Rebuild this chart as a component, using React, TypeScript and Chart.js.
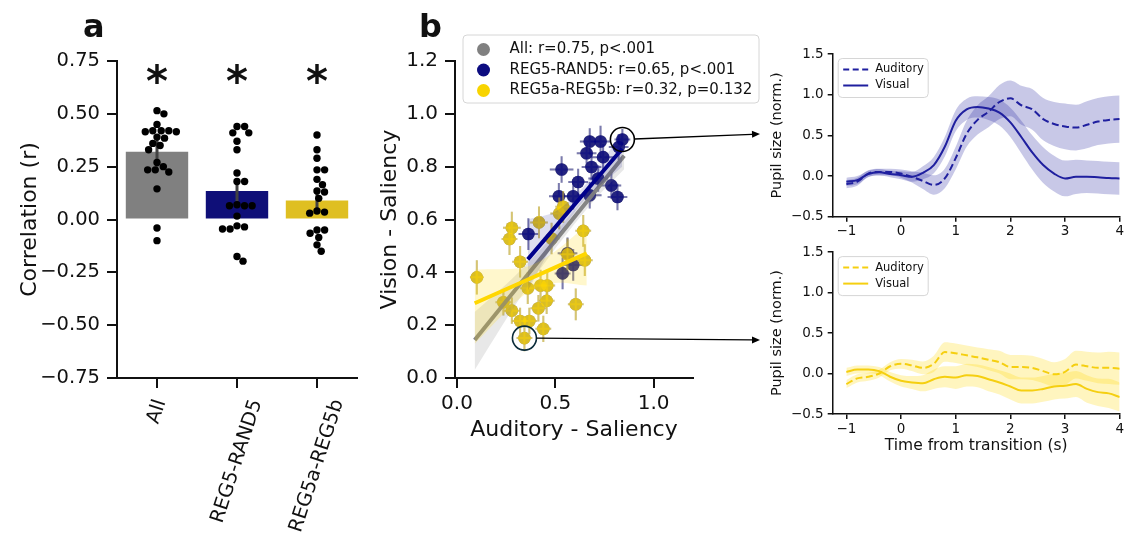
import React, { useEffect, useRef } from 'react';
import { Chart, registerables } from 'chart.js';

Chart.register(...registerables);

const FONT = "'DejaVu Sans', 'Liberation Sans', sans-serif";
const INK = '#111111';
Chart.defaults.font.family = FONT;
Chart.defaults.color = INK;

// ---------- a: per-participant correlation between modalities ----------
const groupLabels = ['All', 'REG5-RAND5', 'REG5a-REG5b'];
const groupMeans = [0.32, 0.135, 0.09];
const groupCiLow = [0.25, 0.085, 0.05];
const groupCiHigh = [0.385, 0.185, 0.14];
const allSubjectR = [0.515, 0.5, 0.45, 0.42, 0.42, 0.415, 0.42, 0.415, 0.39, 0.385, 0.36, 0.35, 0.33, 0.27, 0.25, 0.235, 0.235, 0.225, 0.145, -0.04, -0.1];
const randSubjectR = [0.44, 0.44, 0.41, 0.41, 0.37, 0.33, 0.22, 0.18, 0.18, 0.07, 0.065, 0.065, 0.065, 0.016, -0.03, -0.045, -0.045, -0.035, -0.175, -0.197];
const regSubjectR = [0.4, 0.33, 0.29, 0.235, 0.235, 0.19, 0.165, 0.135, 0.13, 0.1, 0.04, 0.03, 0.035, -0.05, -0.05, -0.065, -0.085, -0.12, -0.15];
const significance = ['*', '*', '*'];
const starLevel = 0.69;
const barColors = ['#808080', '#0f0f78', '#dfbf22'];

// ---------- b: auditory vs visual saliency per condition ----------
const randAudX = [0.675, 0.73, 0.841, 0.822, 0.659, 0.743, 0.684, 0.532, 0.616, 0.718, 0.785, 0.518, 0.591, 0.675, 0.816, 0.363, 0.562, 0.591, 0.537];
const randVisY = [0.895, 0.895, 0.903, 0.874, 0.851, 0.836, 0.799, 0.789, 0.742, 0.755, 0.729, 0.688, 0.688, 0.692, 0.685, 0.545, 0.472, 0.428, 0.396];
const randErrX = [0.05, 0.05, 0.04, 0.05, 0.05, 0.06, 0.05, 0.06, 0.05, 0.05, 0.05, 0.05, 0.05, 0.06, 0.05, 0.05, 0.05, 0.05, 0.04];
const randErrY = [0.05, 0.06, 0.04, 0.05, 0.04, 0.05, 0.05, 0.05, 0.05, 0.05, 0.05, 0.05, 0.05, 0.05, 0.05, 0.06, 0.06, 0.06, 0.06];
const regAudX = [0.101, 0.279, 0.267, 0.417, 0.54, 0.52, 0.481, 0.642, 0.65, 0.562, 0.321, 0.36, 0.425, 0.459, 0.456, 0.414, 0.236, 0.279, 0.321, 0.368, 0.439, 0.343, 0.604];
const regVisY = [0.381, 0.569, 0.526, 0.589, 0.648, 0.623, 0.528, 0.557, 0.446, 0.468, 0.44, 0.34, 0.35, 0.35, 0.292, 0.264, 0.287, 0.255, 0.216, 0.216, 0.186, 0.151, 0.279];
const regErrX = [0.035, 0.045, 0.04, 0.045, 0.04, 0.045, 0.04, 0.04, 0.04, 0.04, 0.04, 0.04, 0.04, 0.04, 0.04, 0.04, 0.04, 0.04, 0.04, 0.04, 0.04, 0.04, 0.04];
const regErrY = [0.065, 0.06, 0.06, 0.06, 0.06, 0.06, 0.06, 0.06, 0.06, 0.06, 0.06, 0.06, 0.06, 0.06, 0.05, 0.05, 0.05, 0.05, 0.05, 0.05, 0.05, 0.05, 0.06];
const highlightedRand = 2;
const highlightedReg = 21;

// regression fits with confidence bands
const allFitX = [0.09, 0.3, 0.5, 0.7, 0.85];
const allFitY = [0.144, 0.337, 0.52, 0.704, 0.841];
const allFitLo = [0.03, 0.28, 0.49, 0.675, 0.79];
const allFitHi = [0.25, 0.39, 0.55, 0.735, 0.89];
const randFitX = [0.36, 0.5, 0.65, 0.84];
const randFitY = [0.449, 0.571, 0.702, 0.868];
const randFitLo = [0.33, 0.52, 0.675, 0.8];
const randFitHi = [0.6, 0.63, 0.73, 0.93];
const regFitX = [0.09, 0.35, 0.5, 0.66];
const regFitY = [0.283, 0.369, 0.419, 0.472];
const regFitLo = [0.13, 0.32, 0.36, 0.35];
const regFitHi = [0.41, 0.42, 0.48, 0.58];

const legendTexts = ['All: r=0.75, p<.001', 'REG5-RAND5: r=0.65, p<.001', 'REG5a-REG5b: r=0.32, p=0.132'];

// ---------- pupil traces around the transition ----------
const timeS = [-1, -0.8, -0.6, -0.4, -0.2, 0, 0.2, 0.4, 0.6, 0.8, 1, 1.2, 1.4, 1.6, 1.8, 2, 2.2, 2.4, 2.6, 2.8, 3, 3.2, 3.4, 3.6, 3.8, 4];
const randAud = [-0.1, -0.07, 0.03, 0.05, 0.05, 0.03, -0.01, -0.06, -0.11, -0.03, 0.22, 0.52, 0.69, 0.79, 0.91, 0.955, 0.87, 0.82, 0.7, 0.64, 0.61, 0.595, 0.63, 0.67, 0.69, 0.7];
const randAudSem = [0.05, 0.05, 0.04, 0.04, 0.04, 0.05, 0.07, 0.1, 0.12, 0.12, 0.14, 0.16, 0.18, 0.19, 0.21, 0.22, 0.24, 0.25, 0.26, 0.27, 0.28, 0.28, 0.29, 0.29, 0.29, 0.29];
const randVis = [-0.07, -0.05, 0.025, 0.045, 0.025, 0.01, -0.01, 0.04, 0.135, 0.36, 0.68, 0.82, 0.85, 0.83, 0.78, 0.66, 0.48, 0.29, 0.135, 0.03, -0.03, -0.01, -0.01, -0.015, -0.025, -0.03];
const randVisSem = [0.05, 0.05, 0.04, 0.04, 0.04, 0.05, 0.06, 0.08, 0.1, 0.12, 0.13, 0.13, 0.13, 0.14, 0.16, 0.18, 0.2, 0.21, 0.22, 0.22, 0.22, 0.21, 0.2, 0.2, 0.2, 0.2];
const regAud = [-0.13, -0.06, -0.04, 0.0, 0.09, 0.12, 0.1, 0.07, 0.12, 0.265, 0.25, 0.225, 0.2, 0.17, 0.14, 0.08, 0.08, 0.07, 0.03, -0.01, 0.02, 0.11, 0.09, 0.07, 0.07, 0.06];
const regAudSem = [0.05, 0.05, 0.05, 0.05, 0.05, 0.06, 0.07, 0.08, 0.1, 0.12, 0.12, 0.12, 0.12, 0.13, 0.14, 0.15, 0.15, 0.15, 0.15, 0.15, 0.16, 0.17, 0.18, 0.19, 0.2, 0.2];
const regVis = [0.02, 0.05, 0.05, 0.03, -0.04, -0.09, -0.11, -0.12, -0.07, -0.04, -0.05, -0.02, -0.03, -0.07, -0.11, -0.16, -0.21, -0.21, -0.19, -0.16, -0.15, -0.13, -0.19, -0.23, -0.245, -0.29];
const regVisSem = [0.05, 0.05, 0.05, 0.05, 0.06, 0.07, 0.08, 0.1, 0.12, 0.13, 0.14, 0.14, 0.14, 0.15, 0.15, 0.16, 0.16, 0.16, 0.16, 0.16, 0.16, 0.16, 0.17, 0.17, 0.18, 0.18];
const traceLabels = ['Auditory', 'Visual'];

// ---------- helpers ----------
const fmtSigned = (digits: number) => (v: number | string) => {
  const n = Number(v);
  const s = Math.abs(n).toFixed(digits);
  return n < -1e-9 ? '\u2212' + s : s;
};

function axis(tickLen: number, width: number, size: number, pad: number) {
  return {
    border: { display: true, color: INK, width },
    grid: {
      display: true, drawOnChartArea: false, drawTicks: true, tickLength: tickLen,
      tickColor: INK, tickWidth: width, color: INK, lineWidth: width, offset: false,
    },
    ticks: { color: INK, font: { family: FONT, size }, padding: pad, maxRotation: 0, minRotation: 0, autoSkip: false },
  };
}

function swarmOffsets(ys: number[], d: number): number[] {
  const order = ys.map((_, i) => i).sort((a, b) => ys[a] - ys[b]);
  const placed: { x: number; y: number }[] = [];
  const out = new Array(ys.length).fill(0);
  for (const i of order) {
    const y = ys[i];
    const cands = [0];
    for (const p of placed) {
      const dy = Math.abs(p.y - y);
      if (dy < d) {
        const dx = Math.sqrt(d * d - dy * dy);
        cands.push(p.x + dx, p.x - dx);
      }
    }
    cands.sort((a, b) => Math.abs(a) - Math.abs(b));
    let best = cands[cands.length - 1];
    for (const c of cands) {
      if (placed.every((p) => (p.x - c) ** 2 + (p.y - y) ** 2 >= d * d - 1e-6)) { best = c; break; }
    }
    placed.push({ x: best, y });
    out[i] = best;
  }
  return out;
}

function pts(xs: number[], ys: number[]) {
  return xs.map((x, i) => ({ x, y: ys[i] }));
}

function drawLegend(ctx: any, box: { x: number; y: number; w: number; h: number }, rows: { label: string; y: number; mark: (cy: number) => void }[], textX: number, size: number) {
  ctx.save();
  ctx.beginPath();
  const r = 4;
  ctx.moveTo(box.x + r, box.y);
  ctx.arcTo(box.x + box.w, box.y, box.x + box.w, box.y + box.h, r);
  ctx.arcTo(box.x + box.w, box.y + box.h, box.x, box.y + box.h, r);
  ctx.arcTo(box.x, box.y + box.h, box.x, box.y, r);
  ctx.arcTo(box.x, box.y, box.x + box.w, box.y, r);
  ctx.closePath();
  ctx.fillStyle = 'rgba(255,255,255,0.85)';
  ctx.fill();
  ctx.strokeStyle = '#d6d6d6';
  ctx.lineWidth = 1;
  ctx.stroke();
  ctx.font = `${size}px ${FONT}`;
  ctx.fillStyle = INK;
  ctx.textAlign = 'left';
  ctx.textBaseline = 'middle';
  rows.forEach((row) => {
    row.mark(row.y);
    ctx.fillStyle = INK;
    ctx.fillText(row.label, textX, row.y);
  });
  ctx.restore();
}

// ---------- panel a ----------
const panelAOverlay = {
  id: 'panelAOverlay',
  afterDatasetsDraw(chart: any) {
    const { ctx, chartArea } = chart;
    const xs = chart.scales.x;
    const ys = chart.scales.y;
    ctx.save();
    ctx.strokeStyle = '#424242';
    ctx.lineWidth = 3;
    groupLabels.forEach((_, i) => {
      const x = xs.getPixelForValue(i);
      ctx.beginPath();
      ctx.moveTo(x, ys.getPixelForValue(groupCiLow[i]));
      ctx.lineTo(x, ys.getPixelForValue(groupCiHigh[i]));
      ctx.stroke();
    });
    const dotR = 3.7;
    [allSubjectR, randSubjectR, regSubjectR].forEach((vals, i) => {
      const cx = xs.getPixelForValue(i);
      const py = vals.map((v) => ys.getPixelForValue(v));
      const off = swarmOffsets(py, dotR * 2 + 0.2);
      ctx.fillStyle = '#000000';
      py.forEach((y, k) => {
        ctx.beginPath();
        ctx.arc(cx + off[k], y, dotR, 0, Math.PI * 2);
        ctx.fill();
      });
    });
    ctx.font = `bold 42px ${FONT}`;
    ctx.textAlign = 'center';
    ctx.textBaseline = 'alphabetic';
    ctx.fillStyle = INK;
    significance.forEach((s, i) => {
      const m = ctx.measureText(s);
      const yc = ys.getPixelForValue(starLevel);
      const base = yc + (m.actualBoundingBoxAscent - m.actualBoundingBoxDescent) / 2;
      ctx.fillText(s, xs.getPixelForValue(i), base);
    });
    const size = 19.5;
    ctx.font = `${size}px ${FONT}`;
    ctx.textBaseline = 'middle';
    const th = (72 * Math.PI) / 180;
    groupLabels.forEach((lab, i) => {
      const L = ctx.measureText(lab).width;
      const h = size * 0.75;
      const H = L * Math.sin(th) + h * Math.cos(th);
      ctx.save();
      ctx.translate(xs.getPixelForValue(i), chartArea.bottom + 20 + H / 2);
      ctx.rotate(-th);
      ctx.fillText(lab, 0, 0);
      ctx.restore();
    });
    ctx.font = `bold 32px ${FONT}`;
    ctx.textAlign = 'left';
    ctx.textBaseline = 'alphabetic';
    ctx.fillText('a', 83, 37);
    ctx.restore();
  },
};

function buildPanelA() {
  const ax = axis(10, 2, 19.5, 7);
  return {
    type: 'bar',
    data: {
      labels: groupLabels,
      datasets: [{ data: groupMeans, backgroundColor: barColors, borderWidth: 0, barPercentage: 0.78, categoryPercentage: 1 }],
    },
    options: {
      responsive: false,
      animation: false,
      layout: { padding: { top: 61, right: 13, left: 0, bottom: 0 } },
      plugins: { legend: { display: false }, tooltip: { enabled: false } },
      scales: {
        x: {
          ...ax,
          offset: true,
          ticks: { ...ax.ticks, display: false },
          afterFit: (s: any) => { s.height = 163; },
        },
        y: {
          ...ax,
          min: -0.75,
          max: 0.75,
          ticks: { ...ax.ticks, stepSize: 0.25, callback: fmtSigned(2) },
          title: { display: true, text: 'Correlation (r)', color: INK, font: { family: FONT, size: 22 }, padding: { top: 17, bottom: 0 } },
          afterFit: (s: any) => { s.width = 117; },
        },
      },
    },
    plugins: [panelAOverlay],
  };
}

// ---------- panel b ----------
const scatterOverlay = {
  id: 'scatterOverlay',
  beforeDatasetDraw(chart: any, args: any) {
    const ds: any = chart.data.datasets[args.index];
    if (!ds.errX) return;
    const { ctx } = chart;
    const xs = chart.scales.x;
    const ys = chart.scales.y;
    ctx.save();
    ctx.strokeStyle = ds.errColor;
    ctx.lineWidth = 2;
    ds.data.forEach((p: any, i: number) => {
      const px = xs.getPixelForValue(p.x);
      const py = ys.getPixelForValue(p.y);
      ctx.beginPath();
      ctx.moveTo(xs.getPixelForValue(p.x - ds.errX[i]), py);
      ctx.lineTo(xs.getPixelForValue(p.x + ds.errX[i]), py);
      ctx.moveTo(px, ys.getPixelForValue(p.y - ds.errY[i]));
      ctx.lineTo(px, ys.getPixelForValue(p.y + ds.errY[i]));
      ctx.stroke();
    });
    ctx.restore();
  },
  afterDatasetsDraw(chart: any) {
    const { ctx, chartArea } = chart;
    const xs = chart.scales.x;
    const ys = chart.scales.y;
    ctx.save();
    // callouts pointing to the pupil traces on the right
    const callouts = [
      { x: randAudX[highlightedRand], y: randVisY[highlightedRand], color: '#000000', tx: 390, ty: 134 },
      { x: regAudX[highlightedReg], y: regVisY[highlightedReg], color: '#0b2c3a', tx: 390, ty: 340 },
    ];
    const rad = 12;
    callouts.forEach((c) => {
      const cx = xs.getPixelForValue(c.x);
      const cy = ys.getPixelForValue(c.y);
      ctx.strokeStyle = c.color;
      ctx.lineWidth = 1.6;
      ctx.beginPath();
      ctx.arc(cx, cy, rad, 0, Math.PI * 2);
      ctx.stroke();
      const a = Math.atan2(c.ty - cy, c.tx - cx);
      const sx = cx + rad * Math.cos(a);
      const sy = cy + rad * Math.sin(a);
      const hl = 8;
      const hw = 3.5;
      const bx = c.tx - hl * Math.cos(a);
      const by = c.ty - hl * Math.sin(a);
      ctx.strokeStyle = '#000000';
      ctx.lineWidth = 1.3;
      ctx.beginPath();
      ctx.moveTo(sx, sy);
      ctx.lineTo(bx, by);
      ctx.stroke();
      ctx.fillStyle = '#000000';
      ctx.beginPath();
      ctx.moveTo(c.tx, c.ty);
      ctx.lineTo(bx - hw * Math.sin(a), by + hw * Math.cos(a));
      ctx.lineTo(bx + hw * Math.sin(a), by - hw * Math.cos(a));
      ctx.closePath();
      ctx.fill();
    });
    const markColors = ['#808080', '#0c0c80', '#f8d400'];
    const left = chartArea.left + 8;
    const top = chartArea.top - 26;
    drawLegend(
      ctx,
      { x: left, y: top, w: 296, h: 68 },
      legendTexts.map((label, i) => ({
        label,
        y: top + 14.5 + i * 20.5,
        mark: (cy: number) => {
          ctx.fillStyle = markColors[i];
          ctx.beginPath();
          ctx.arc(left + 20.5, cy, 6.5, 0, Math.PI * 2);
          ctx.fill();
        },
      })),
      left + 46.5,
      15,
    );
    ctx.font = `bold 32px ${FONT}`;
    ctx.textAlign = 'left';
    ctx.textBaseline = 'alphabetic';
    ctx.fillStyle = INK;
    ctx.fillText('b', 49, 37);
    ctx.restore();
  },
};

function bandSets(xs: number[], fit: number[], lo: number[], hi: number[], line: string, fill: string) {
  return [
    { type: 'line', data: pts(xs, hi), borderColor: 'transparent', borderWidth: 0, pointRadius: 0, fill: false, tension: 0.3 },
    { type: 'line', data: pts(xs, lo), borderColor: 'transparent', borderWidth: 0, pointRadius: 0, fill: '-1', backgroundColor: fill, tension: 0.3 },
    { type: 'line', data: pts(xs, fit), borderColor: line, borderWidth: 4, pointRadius: 0, fill: false, tension: 0 },
  ];
}

function buildPanelB() {
  const ax = axis(10, 2, 20, 7);
  const allAudX = [...randAudX, ...regAudX];
  const allVisY = [...randVisY, ...regVisY];
  const allErrX = [...randErrX, ...regErrX];
  const allErrY = [...randErrY, ...regErrY];
  const datasets: any[] = [
    { type: 'scatter', label: legendTexts[0], data: pts(allAudX, allVisY), backgroundColor: '#808080', pointRadius: 6.3, pointBorderWidth: 0, errX: allErrX, errY: allErrY, errColor: 'rgba(128,128,128,0.45)' },
    { type: 'scatter', label: legendTexts[1], data: pts(randAudX, randVisY), backgroundColor: 'rgba(0,0,128,0.72)', pointRadius: 6.3, pointBorderWidth: 0, errX: randErrX, errY: randErrY, errColor: 'rgba(20,20,140,0.42)' },
    { type: 'scatter', label: legendTexts[2], data: pts(regAudX, regVisY), backgroundColor: 'rgba(255,215,0,0.7)', pointRadius: 6.3, pointBorderWidth: 0, errX: regErrX, errY: regErrY, errColor: 'rgba(230,195,30,0.5)' },
    ...bandSets(allFitX, allFitY, allFitLo, allFitHi, 'rgba(128,128,128,0.95)', 'rgba(128,128,128,0.18)'),
    ...bandSets(randFitX, randFitY, randFitLo, randFitHi, '#00008b', 'rgba(0,0,128,0.13)'),
    ...bandSets(regFitX, regFitY, regFitLo, regFitHi, '#ffd700', 'rgba(255,215,0,0.2)'),
  ];
  datasets.forEach((d, i) => { d.order = datasets.length - i; });
  return {
    type: 'scatter',
    data: { datasets },
    options: {
      responsive: false,
      animation: false,
      layout: { padding: { top: 61, right: 77, left: 0, bottom: 0 } },
      plugins: { legend: { display: false }, tooltip: { enabled: false } },
      scales: {
        x: {
          ...ax,
          type: 'linear',
          min: -0.01,
          max: 1.2,
          ticks: { ...ax.ticks, padding: 4, stepSize: 0.5, includeBounds: false, callback: fmtSigned(1) },
          title: { display: true, text: 'Auditory - Saliency', color: INK, font: { family: FONT, size: 22 }, padding: { top: 0, bottom: 17 } },
          afterFit: (s: any) => { s.height = 82; },
        },
        y: {
          ...ax,
          type: 'linear',
          min: 0,
          max: 1.2,
          ticks: { ...ax.ticks, stepSize: 0.2, callback: fmtSigned(1) },
          title: { display: true, text: 'Vision - Saliency', color: INK, font: { family: FONT, size: 22 }, padding: { top: 7, bottom: 0 } },
          afterFit: (s: any) => { s.width = 85; },
        },
      },
    },
    plugins: [scatterOverlay],
  };
}

// ---------- pupil traces ----------
function traceSets(mean: number[], sem: number[], color: string, fill: string, dash: number[]) {
  const common = { type: 'line', pointRadius: 0, cubicInterpolationMode: 'monotone', tension: 0.4 };
  return [
    { ...common, data: pts(timeS, mean.map((m, i) => m + sem[i])), borderColor: 'transparent', borderWidth: 0, fill: false },
    { ...common, data: pts(timeS, mean.map((m, i) => m - sem[i])), borderColor: 'transparent', borderWidth: 0, fill: '-1', backgroundColor: fill },
    { ...common, data: pts(timeS, mean), borderColor: color, borderWidth: 2, borderDash: dash, fill: false },
  ];
}

function traceLegend(color: string) {
  return {
    id: 'traceLegend',
    afterDatasetsDraw(chart: any) {
      const { ctx, chartArea } = chart;
      const left = chartArea.left + 5.5;
      const top = chartArea.top + 4.5;
      drawLegend(
        ctx,
        { x: left, y: top, w: 90, h: 39 },
        traceLabels.map((label, i) => ({
          label,
          y: top + 11 + i * 16,
          mark: (cy: number) => {
            ctx.strokeStyle = color;
            ctx.lineWidth = 2;
            ctx.setLineDash(i === 0 ? [6, 3.5] : []);
            ctx.beginPath();
            ctx.moveTo(left + 5, cy);
            ctx.lineTo(left + 30, cy);
            ctx.stroke();
            ctx.setLineDash([]);
          },
        })),
        left + 37,
        11.5,
      );
    },
  };
}

function buildTrace(aud: number[], audSem: number[], vis: number[], visSem: number[], color: string, fill: string, withTitle: boolean, padTop: number, xHeight: number) {
  const ax = axis(5, 1.5, 13.5, 3);
  const datasets: any[] = [
    ...traceSets(aud, audSem, color, fill, [7, 3.5]),
    ...traceSets(vis, visSem, color, fill, []),
  ];
  datasets.forEach((d, i) => { d.order = datasets.length - i; });
  return {
    type: 'line',
    data: { datasets },
    options: {
      responsive: false,
      animation: false,
      layout: { padding: { top: padTop, right: 4.5, left: 0, bottom: 0 } },
      plugins: { legend: { display: false }, tooltip: { enabled: false } },
      scales: {
        x: {
          ...ax,
          type: 'linear',
          min: -1.25,
          max: 4,
          ticks: { ...ax.ticks, padding: 2, stepSize: 1, includeBounds: false, callback: fmtSigned(0) },
          title: { display: withTitle, text: 'Time from transition (s)', color: INK, font: { family: FONT, size: 15.5 }, padding: { top: 0, bottom: 5 } },
          afterFit: (s: any) => { s.height = xHeight; },
        },
        y: {
          ...ax,
          min: -0.5,
          max: 1.5,
          ticks: { ...ax.ticks, padding: 4, stepSize: 0.5, callback: fmtSigned(1) },
          title: { display: true, text: 'Pupil size (norm.)', color: INK, font: { family: FONT, size: 14.5 }, padding: { top: 8.3, bottom: 0 } },
          afterFit: (s: any) => { s.width = 72.7; },
        },
      },
    },
    plugins: [traceLegend(color)],
  };
}

const buildTop = () => buildTrace(randAud, randAudSem, randVis, randVisSem, '#1f1f9f', 'rgba(35,35,160,0.25)', false, 14, 23.3);
const buildBottom = () => buildTrace(regAud, regAudSem, regVis, regVisSem, '#f5cf10', 'rgba(255,215,0,0.25)', true, 10.7, 46);

function ChartCanvas({ left, top, width, height, build }: { left: number; top: number; width: number; height: number; build: () => any }) {
  const ref = useRef<HTMLCanvasElement | null>(null);
  useEffect(() => {
    if (!ref.current) return;
    const chart = new Chart(ref.current, build());
    return () => chart.destroy();
  }, [build]);
  return <canvas ref={ref} width={width} height={height} style={{ position: 'absolute', left, top, width, height, display: 'block' }} />;
}

export default function App() {
  return (
    <div style={{ position: 'fixed', left: 0, top: 0, width: 1126, height: 541, background: '#ffffff', overflow: 'hidden' }}>
      <ChartCanvas left={0} top={0} width={370} height={541} build={buildPanelA} />
      <ChartCanvas left={370} top={0} width={400} height={460} build={buildPanelB} />
      <ChartCanvas left={760} top={40} width={366} height={200} build={buildTop} />
      <ChartCanvas left={760} top={240} width={366} height={220} build={buildBottom} />
    </div>
  );
}
